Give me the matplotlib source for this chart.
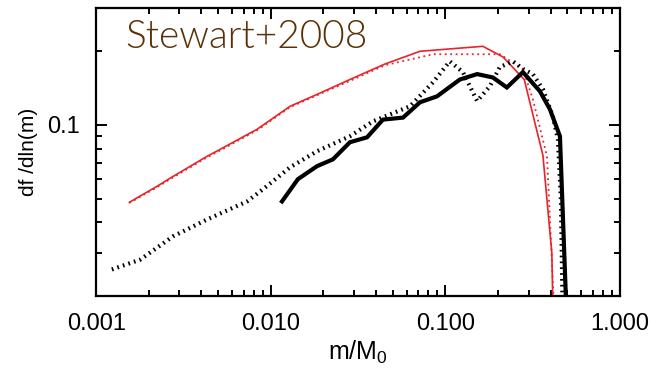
import numpy as np
import matplotlib
matplotlib.use('Agg')
from matplotlib import pyplot as plt
from matplotlib.ticker import FixedLocator, FixedFormatter, NullFormatter


# values (m/M0 , df/dln(m))
red_x   = [0.00155, 0.00223, 0.00276, 0.00432, 0.00513, 0.00835, 0.0129, 0.0184,
           0.0284, 0.0451, 0.0716, 0.164, 0.214, 0.283, 0.362, 0.407, 0.415]
red_y   = [0.0483, 0.0561, 0.0616, 0.0744, 0.0794, 0.0959, 0.119, 0.133,
           0.153, 0.177, 0.1995, 0.209, 0.189, 0.153, 0.075, 0.030, 0.015]

reddot_x = [0.00155, 0.00223, 0.00276, 0.00432, 0.00513, 0.00835, 0.0129, 0.0184,
            0.0284, 0.0451, 0.0849, 0.205, 0.278, 0.317, 0.382, 0.424]
reddot_y = [0.0480, 0.0556, 0.0610, 0.0737, 0.0786, 0.0950, 0.118, 0.132,
            0.151, 0.175, 0.194, 0.194, 0.169, 0.127, 0.0743, 0.015]

blk_x = [0.0116, 0.0143, 0.0184, 0.0227, 0.0284, 0.0356, 0.0439, 0.0572, 0.0716,
         0.0895, 0.121, 0.152, 0.187, 0.225, 0.278, 0.348, 0.397, 0.453, 0.497]
blk_y = [0.0487, 0.0600, 0.0678, 0.0723, 0.0849, 0.0889, 0.105, 0.107, 0.1236,
         0.1306, 0.153, 0.161, 0.156, 0.142, 0.164, 0.137, 0.1156, 0.0898, 0.015]

blkdot_x = [0.00123, 0.00179, 0.00276, 0.00432, 0.00732, 0.00903, 0.0129, 0.0184,
            0.0284, 0.0385, 0.0627, 0.0849, 0.106, 0.126, 0.152, 0.180, 0.205,
            0.244, 0.278, 0.317, 0.362, 0.413, 0.441, 0.459, 0.471]
blkdot_y = [0.0257, 0.0282, 0.0351, 0.0411, 0.0487, 0.0546, 0.0671, 0.0780,
            0.0898, 0.1033, 0.119, 0.149, 0.1815, 0.164, 0.125, 0.1437, 0.172,
            0.1815, 0.169, 0.161, 0.1396, 0.108, 0.0873, 0.0497, 0.015]

xticks      = [0.001, 0.01, 0.1, 1.0]
xticklabels = ['0.001', '0.010', '0.100', '1.000']
yticks      = [0.1]
yticklabels = ['0.1']


plt.rcParams['font.family'] = ['Liberation Sans', 'DejaVu Sans']

fig = plt.figure(figsize=(6.54, 3.73), dpi=100)
ax = fig.add_axes([0.147, 0.206, 0.801, 0.773])

ax.plot(red_x, red_y, color='#e8232a', lw=1.2)
ax.plot(reddot_x, reddot_y, color='#e8232a', lw=1.3, linestyle=(0, (1, 2)))
ax.plot(blkdot_x, blkdot_y, color='black', lw=3.0, linestyle=(0, (0.4, 1.0)))
ax.plot(blk_x, blk_y, color='black', lw=3.0, solid_joinstyle='miter')

ax.set_xscale('log')
ax.set_yscale('log')
ax.set_xlim(0.001, 1.0)
ax.set_ylim(0.02, 0.3)

ax.xaxis.set_major_locator(FixedLocator(xticks))
ax.xaxis.set_major_formatter(FixedFormatter(xticklabels))
ax.xaxis.set_minor_formatter(NullFormatter())
ax.yaxis.set_major_locator(FixedLocator(yticks))
ax.yaxis.set_major_formatter(FixedFormatter(yticklabels))
ax.yaxis.set_minor_formatter(NullFormatter())

ax.tick_params(which='both', direction='in', top=True, right=True, width=1.4,
               labelsize=17, pad=12)
ax.tick_params(which='major', length=8)
ax.tick_params(which='minor', length=4)
for s in ax.spines.values():
    s.set_linewidth(1.6)

ax.set_xlabel(r'$\mathregular{m/M_0}$', fontsize=18, labelpad=3)
ax.set_ylabel('df /dln(m)', fontsize=15, labelpad=6)

ax.text(0.056, 0.90, 'Stewart+2008', transform=ax.transAxes, fontsize=28,
        family=['Lato', 'DejaVu Sans'], fontweight=300, color='#5a3006',
        va='center', ha='left')

fig.savefig('out.png', dpi=100)
